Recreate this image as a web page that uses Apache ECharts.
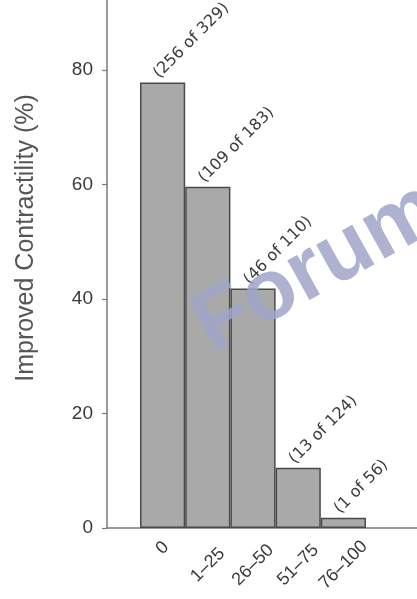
<!DOCTYPE html>
<html>
<head>
<meta charset="utf-8">
<script src="https://cdn.jsdelivr.net/npm/echarts@6/dist/echarts.min.js"></script>
<style>
  html, body { margin: 0; padding: 0; background: #fff; }
  #chart { width: 417px; height: 599px; }
</style>
</head>
<body>
<div id="chart"></div>
<script>
// Extent of hypokinesis (%) groups and patients with improved contractility
const categories = ['0', '1–25', '26–50', '51–75', '76–100'];
const improved = [256, 109, 46, 13, 1];
const totals = [329, 183, 110, 124, 56];
const yTicks = [0, 20, 40, 60, 80];

const percents = improved.map((n, i) => +(100 * n / totals[i]).toFixed(1));
const labels = improved.map((n, i) => '(' + n + ' of ' + totals[i] + ')');

const font = '"Liberation Sans", Arial, sans-serif';
const axisGrey = '#7a7a7a';
const textGrey = '#3a3a3a';
const yMax = 92.2;

const chart = echarts.init(document.getElementById('chart'), null, { renderer: 'canvas' });

chart.setOption({
  animation: false,
  backgroundColor: '#ffffff',
  grid: [
    { left: 140, right: 51, top: 0, bottom: 71, containLabel: false },
    { left: 107, right: 0, top: 0, bottom: 71, containLabel: false }
  ],
  xAxis: [
    {
      type: 'category',
      gridIndex: 0,
      data: categories,
      axisLine: { show: false },
      axisTick: { show: false },
      axisLabel: {
        rotate: 45,
        margin: 37,
        align: 'center',
        verticalAlign: 'middle',
        color: textGrey,
        fontFamily: font,
        fontSize: 18,
        // short labels sit nearer the axis
        formatter: v => (v.length === 1 ? '{short|' + v + '}' : v),
        rich: {
          short: { fontFamily: font, fontSize: 18, color: textGrey, padding: [0, 0, 24, 24] }
        }
      }
    },
    {
      type: 'value',
      gridIndex: 1,
      min: 0,
      max: 1,
      axisLine: { show: true, lineStyle: { color: axisGrey, width: 1.5 } },
      axisTick: { show: false },
      axisLabel: { show: false },
      splitLine: { show: false }
    }
  ],
  yAxis: [
    {
      type: 'value',
      gridIndex: 0,
      min: 0,
      max: yMax,
      interval: 20,
      offset: 33,
      name: 'Improved Contractility (%)',
      nameLocation: 'middle',
      nameGap: 68,
      nameTextStyle: {
        color: '#555555',
        fontFamily: font,
        fontSize: 25,
        padding: [0, 0, 0, 52]
      },
      axisLine: { show: true, lineStyle: { color: axisGrey, width: 1.5 } },
      axisTick: { show: true, length: 5, customValues: yTicks, lineStyle: { color: axisGrey, width: 1.2 } },
      axisLabel: {
        customValues: yTicks,
        color: textGrey,
        fontFamily: font,
        fontSize: 19,
        margin: 14
      },
      splitLine: { show: false }
    },
    {
      type: 'value',
      gridIndex: 1,
      min: 0,
      max: yMax,
      show: false
    }
  ],
  series: [
    {
      type: 'bar',
      xAxisIndex: 0,
      yAxisIndex: 0,
      data: percents,
      barCategoryGap: '0%',
      itemStyle: { color: '#a9a9a9', borderColor: '#4a4a4a', borderWidth: 1.5 },
      label: {
        show: true,
        position: 'top',
        distance: 13,
        rotate: 45,
        align: 'left',
        verticalAlign: 'middle',
        offset: [-9, 0],
        color: textGrey,
        fontFamily: '"DejaVu Sans", sans-serif',
        fontSize: 16,
        formatter: p => labels[p.dataIndex]
      }
    }
  ],
  graphic: [
    {
      type: 'text',
      left: 180,
      top: 166,
      rotation: 29 * Math.PI / 180,
      z: 100,
      style: {
        text: 'Forum',
        fill: 'rgba(160, 164, 200, 0.85)',
        font: 'bold 86px "Liberation Sans", Arial, sans-serif'
      }
    }
  ]
});
</script>
</body>
</html>
